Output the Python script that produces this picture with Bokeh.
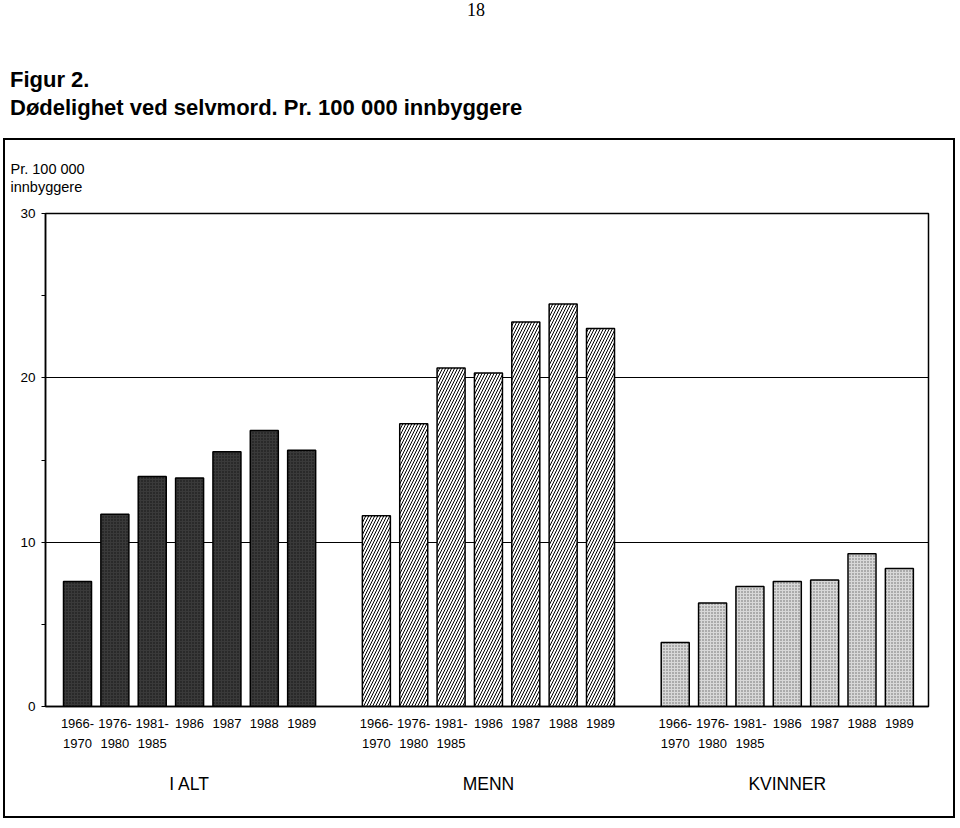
from bokeh.plotting import figure
from bokeh.models import (ColumnDataSource, Range1d, FixedTicker, LinearAxis, Div, Title)
from bokeh.layouts import column
from bokeh.embed import file_html
from bokeh.resources import INLINE

# ---- data ----
periods = ["1966-\n1970", "1976-\n1980", "1981-\n1985", "1986", "1987", "1988", "1989"]
groups = ["I ALT", "MENN", "KVINNER"]
i_alt = [7.6, 11.7, 14.0, 13.9, 15.5, 16.8, 15.6]
menn = [11.6, 17.2, 20.6, 20.3, 23.4, 24.5, 23.0]
kvinner = [3.9, 6.3, 7.3, 7.6, 7.7, 9.3, 8.4]
y_ticks = [0, 10, 20, 30]
y_minor = [5, 15, 25]

series = [i_alt, menn, kvinner]
stride = len(periods) + 1

FONT = "Liberation Sans"

p = figure(width=952, height=680,
           x_range=Range1d(-0.857, 22.78), y_range=Range1d(0, 30),
           output_backend="svg", toolbar_location=None,
           min_border_left=40, min_border_right=29,
           min_border_top=73, min_border_bottom=114,
           background_fill_color="white", border_fill_color="white")

styles = [
    dict(fill_color="#3a3a3a", hatch_pattern=".", hatch_color="#111111", hatch_scale=3, hatch_weight=1.2),
    dict(fill_color="white", hatch_pattern="/", hatch_color="black", hatch_scale=6, hatch_weight=1),
    dict(fill_color="#d8d8d8", hatch_pattern=".", hatch_color="#666666", hatch_scale=3, hatch_weight=1),
]

tick_pos = []
overrides = {}
for g, vals in enumerate(series):
    xs = [g * stride + i for i in range(len(vals))]
    src = ColumnDataSource(dict(x=xs, top=vals))
    p.vbar(x="x", top="top", bottom=0, width=0.75, source=src,
           line_color="black", line_width=1.5, **styles[g])
    for i, x in enumerate(xs):
        tick_pos.append(x)
        overrides[x] = periods[i]

# y axis
ya = p.yaxis[0]
ya.ticker = FixedTicker(ticks=y_ticks, minor_ticks=y_minor)
ya.axis_line_color = "black"
ya.axis_line_width = 1.5
ya.major_tick_in = 0
ya.major_tick_out = 4
ya.minor_tick_in = 0
ya.minor_tick_out = 4
ya.major_tick_line_color = "black"
ya.minor_tick_line_color = "black"
ya.major_label_standoff = 6
ya.major_label_text_font = FONT
ya.major_label_text_font_size = "13.5px"
ya.major_label_text_color = "black"

# grid
p.ygrid.ticker = FixedTicker(ticks=[10, 20])
p.ygrid.grid_line_color = "black"
p.ygrid.grid_line_width = 1.2
p.xgrid.grid_line_color = None

p.outline_line_color = "black"
p.outline_line_width = 1.5
p.outline_line_alpha = 1

# x axis (periods)
xa = p.xaxis[0]
xa.ticker = FixedTicker(ticks=tick_pos)
xa.major_label_overrides = overrides
xa.axis_line_color = "black"
xa.axis_line_width = 1.5
xa.major_tick_line_color = None
xa.minor_tick_line_color = None
xa.major_label_standoff = 3
xa.major_label_text_font = FONT
xa.major_label_text_font_size = "13px"
xa.major_label_text_color = "black"
xa.major_label_text_line_height = 1.35

# group axis
group_centers = [g * stride + (len(periods) - 1) / 2 for g in range(len(groups))]
ga = LinearAxis(ticker=FixedTicker(ticks=group_centers),
                major_label_overrides={c: n for c, n in zip(group_centers, groups)})
ga.axis_line_color = None
ga.major_tick_line_color = None
ga.minor_tick_line_color = None
ga.major_label_standoff = 14
ga.major_label_text_font = FONT
ga.major_label_text_font_size = "17.5px"
ga.major_label_text_color = "black"
p.add_layout(ga, "below")

# y label as title at top-left
t = Title(text="Pr. 100 000\ninnbyggere", align="left", offset=-35,
          text_font=FONT, text_font_size="14.5px", text_font_style="normal",
          text_color="black", standoff=36, text_line_height=1.17)
p.add_layout(t, "above")

p.styles = {"border": "2px solid black"}
p.margin = (0, 0, 0, 3)

head = Div(width=960, height=138, margin=(0, 0, 0, 0), text="""
<div style="position:relative;width:960px;height:138px;color:black;">
  <div style="position:absolute;left:467px;top:1px;font-family:'Liberation Serif';font-size:18px;line-height:18px;">18</div>
  <div style="position:absolute;left:10px;top:69px;font-family:'Liberation Sans';font-weight:bold;font-size:22px;line-height:22px;">Figur 2.</div>
  <div style="position:absolute;left:10px;top:97px;font-family:'Liberation Sans';font-weight:bold;font-size:22px;line-height:22px;white-space:nowrap;">D&oslash;delighet ved selvmord. Pr. 100 000 innbyggere</div>
</div>
""")

layout = column(head, p, spacing=0)
open("out.html", "w").write(file_html(layout, INLINE))
